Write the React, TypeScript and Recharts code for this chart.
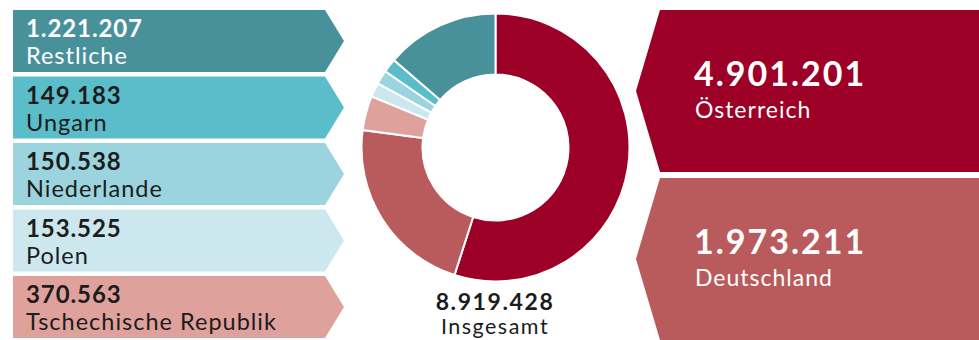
import React from 'react';
import { PieChart, Pie, Cell, Customized } from 'recharts';

const countries = ['Österreich', 'Deutschland', 'Tschechische Republik', 'Polen', 'Niederlande', 'Ungarn', 'Restliche'];
const visitors = [4901201, 1973211, 370563, 153525, 150538, 149183, 1221207];
const colors = ['#9c0027', '#b95b5c', '#dfa19c', '#cce7ee', '#9bd3de', '#5bbdca', '#48919b'];
const textColors = ['#ffffff', '#ffffff', '#1c1c1c', '#1c1c1c', '#1c1c1c', '#1c1c1c', '#ffffff'];
const leftOrder = [6, 5, 4, 3, 2];
const rightOrder = [0, 1];
const totalLabel = 'Insgesamt';

const data = countries.map((name, i) => ({ name, value: visitors[i] }));
const total = visitors.reduce((a, b) => a + b, 0);

const fmt = (n: number) => String(n).replace(/\B(?=(\d{3})+(?!\d))/g, '.');

const W = 979;
const H = 340;
const FONT = 'Lato, "Noto Sans", sans-serif';

const Boxes = () => {
  const lx = 13, lRight = 325, lTip = 344, lTop = 10, lH = 62, lStep = 66.5;
  const rTip = 636, rLeft = 660, rTop = 10, rH = 162, rStep = 168;
  return (
    <g>
      {leftOrder.map((idx, k) => {
        const t = lTop + k * lStep;
        const b = t + lH;
        const m = (t + b) / 2;
        return (
          <g key={'l' + idx}>
            <polygon points={`${lx},${t} ${lRight},${t} ${lTip},${m} ${lRight},${b} ${lx},${b}`} fill={colors[idx]} />
            <text x={26} y={t + 27} fill={textColors[idx]} fontFamily={FONT} fontWeight={700} fontSize={24} letterSpacing={0.9}>
              {fmt(visitors[idx])}
            </text>
            <text x={26} y={t + 54} fill={textColors[idx]} fontFamily={FONT} fontWeight={400} fontSize={23.5} letterSpacing={1}>
              {countries[idx]}
            </text>
          </g>
        );
      })}
      {rightOrder.map((idx, k) => {
        const t = rTop + k * rStep;
        const b = t + rH;
        const m = (t + b) / 2;
        return (
          <g key={'r' + idx}>
            <polygon points={`${rLeft},${t} ${W + 5},${t} ${W + 5},${b} ${rLeft},${b} ${rTip},${m}`} fill={colors[idx]} />
            <text x={694} y={t + 76} fill={textColors[idx]} fontFamily={FONT} fontWeight={700} fontSize={34} letterSpacing={2}>
              {fmt(visitors[idx])}
            </text>
            <text x={695} y={t + 108} fill={textColors[idx]} fontFamily={FONT} fontWeight={400} fontSize={23} letterSpacing={1}>
              {countries[idx]}
            </text>
          </g>
        );
      })}
      <text x={495} y={310} textAnchor="middle" fill="#1c1c1c" fontFamily={FONT} fontWeight={700} fontSize={23} letterSpacing={1.6}>
        {fmt(total)}
      </text>
      <text x={495} y={334} textAnchor="middle" fill="#1c1c1c" fontFamily={FONT} fontWeight={400} fontSize={21.5} letterSpacing={1.5}>
        {totalLabel}
      </text>
    </g>
  );
};

export default function App() {
  return (
    <div style={{ position: 'absolute', left: 0, top: 0, width: W, height: H, background: '#fff' }}>
      <PieChart width={W} height={H} margin={{ top: 0, right: 0, bottom: 0, left: 0 }}>
        <Customized component={<Boxes />} />
        <Pie
          data={data}
          dataKey="value"
          nameKey="name"
          cx={495.5}
          cy={147.5}
          innerRadius={73}
          outerRadius={134}
          startAngle={90}
          endAngle={-270}
          stroke="#ffffff"
          strokeWidth={2}
          isAnimationActive={false}
        >
          {data.map((d, i) => (
            <Cell key={d.name} fill={colors[i]} />
          ))}
        </Pie>
      </PieChart>
    </div>
  );
}
